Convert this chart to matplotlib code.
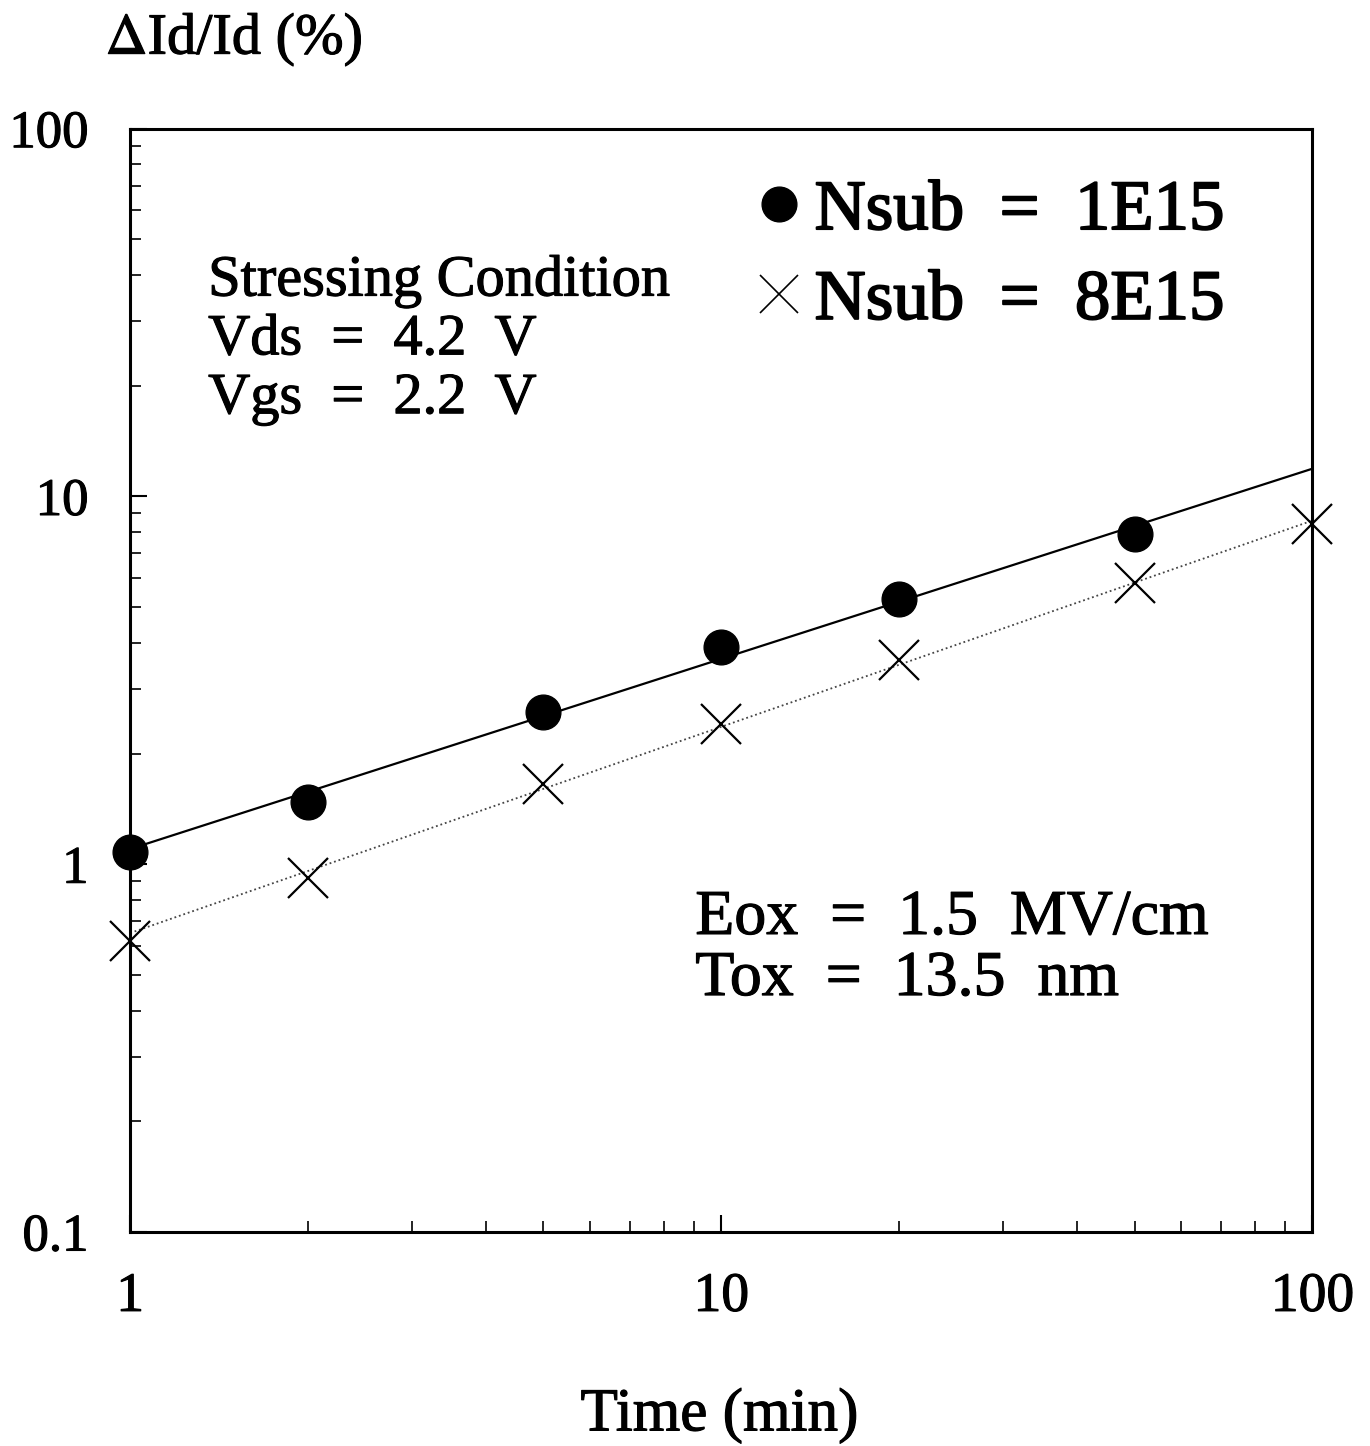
import matplotlib
matplotlib.use("Agg")
import matplotlib.pyplot as plt
from matplotlib.lines import Line2D
import matplotlib.patheffects as pe

plt.rcParams['font.family'] = ['Liberation Serif', 'DejaVu Serif']
plt.rcParams['mathtext.fontset'] = 'stix'

# Stress time (min) and drain-current degradation (%)
time_1e15 = [1, 2, 5, 10, 20, 50]
did_1e15 = [1.08, 1.48, 2.6, 3.9, 5.25, 7.9]

time_8e15 = [1, 2, 5, 10, 20, 50, 100]
did_8e15 = [0.62, 0.92, 1.65, 2.4, 3.6, 5.8, 8.4]

# Power-law fit lines (endpoints at t = 1 and t = 100 min)
fit_t = [1, 100]
fit_1e15 = [1.1, 11.9]
fit_8e15 = [0.65, 8.6]

xticks = [1, 10, 100]
xticklabels = ['1', '10', '100']
yticks = [0.1, 1, 10, 100]
yticklabels = ['0.1', '1', '10', '100']

# slightly heavier strokes for all printed text
ink = [pe.withStroke(linewidth=0.8, foreground='black')]

fig = plt.figure(figsize=(13.7, 14.46), dpi=100)
ax = fig.add_axes([0.095, 0.148, 0.863, 0.763])
ax.set_xscale('log')
ax.set_yscale('log')
ax.set_xlim(1, 100)
ax.set_ylim(0.1, 100)

ax.plot(fit_t, fit_1e15, color='black', lw=1.6, zorder=2)
ax.plot(fit_t, fit_8e15, color='#444444', lw=1.3, ls=(0, (1, 1.6)), zorder=2)

ax.plot(time_1e15, did_1e15, ls='none', marker='o', ms=25, color='black',
        clip_on=False, zorder=3)
ax.plot(time_8e15, did_8e15, ls='none', marker='x', ms=29, mew=1.6,
        color='black', clip_on=False, zorder=3)

for s in ax.spines.values():
    s.set_linewidth(2.2)

ax.set_xticks(xticks)
ax.set_xticklabels(xticklabels)
ax.set_yticks(yticks)
ax.set_yticklabels(yticklabels)
ax.tick_params(which='major', direction='in', length=12, width=1.5,
               labelsize=40, pad=28)
ax.tick_params(which='minor', direction='in', length=8, width=1.2)
ax.tick_params(axis='y', which='major', labelsize=38, pad=30)
ax.tick_params(top=False, right=False, which='both')
for lbl in ax.get_xticklabels() + ax.get_yticklabels():
    lbl.set_path_effects(ink)

fig.text(0.077, 0.972, r'$\Delta$Id/Id (%)', fontsize=42, ha='left',
         va='center', path_effects=ink)
fig.text(0.525, 0.021, 'Time (min)', fontsize=44, ha='center', va='center',
         path_effects=ink)

ax.text(0.066, 0.885, 'Stressing Condition\nVds  =  4.2  V\nVgs  =  2.2  V',
        transform=ax.transAxes, fontsize=42, ha='left', va='top',
        linespacing=1.17, path_effects=ink)
ax.text(0.478, 0.31, 'Eox  =  1.5  MV/cm\nTox  =  13.5  nm',
        transform=ax.transAxes, fontsize=46, ha='left', va='top',
        linespacing=1.07, path_effects=ink)

handles = [
    Line2D([], [], ls='none', marker='o', ms=25, color='black'),
    Line2D([], [], ls='none', marker='x', ms=28, mew=1.2, color='black'),
]
leg = ax.legend(handles, ['Nsub  =  1E15', 'Nsub  =  8E15'], loc='upper left',
                bbox_to_anchor=(0.51, 0.98), frameon=False, fontsize=51,
                handlelength=0.5, handletextpad=0.25, labelspacing=0.35,
                borderaxespad=0)
for t in leg.get_texts():
    t.set_path_effects([pe.withStroke(linewidth=1.4, foreground='black')])

fig.savefig('out.png', dpi=100, facecolor='white')
